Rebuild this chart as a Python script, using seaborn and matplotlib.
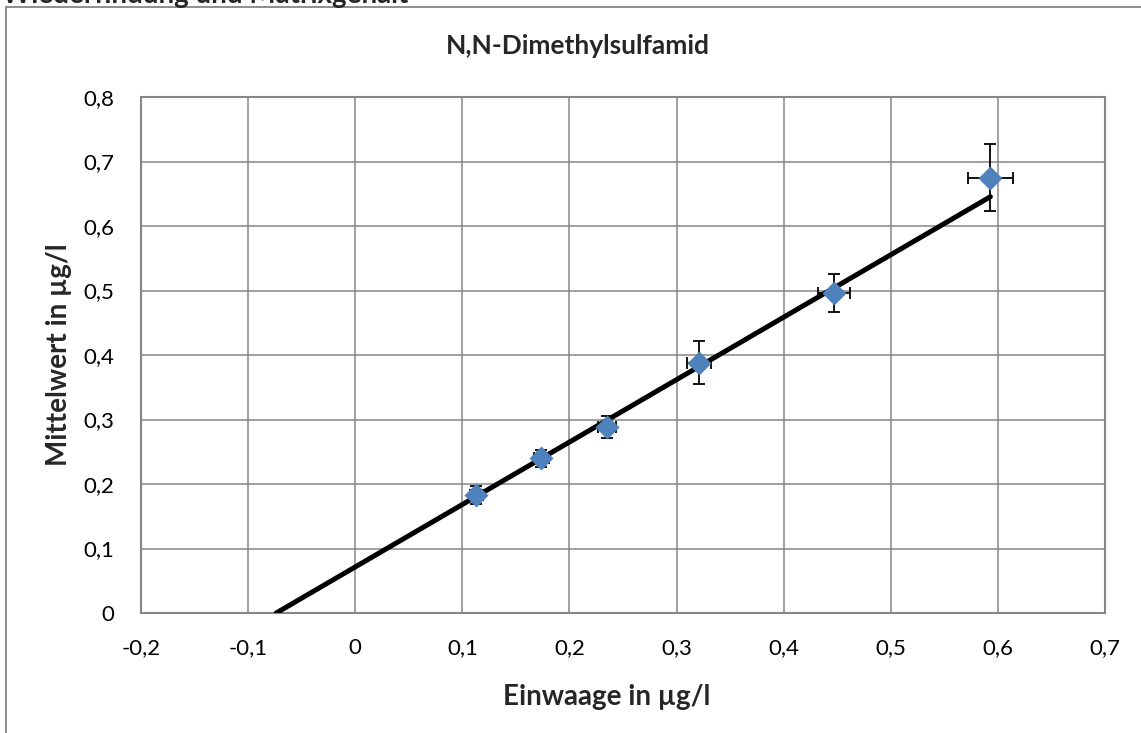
import numpy as np
import matplotlib
matplotlib.use("Agg")
import matplotlib.pyplot as plt
import seaborn as sns
import pandas as pd

# ---- data ----
einwaage = [0.113, 0.1735, 0.235, 0.321, 0.447, 0.593]
mittelwert = [0.183, 0.240, 0.288, 0.388, 0.496, 0.675]
x_err = [0.006, 0.007, 0.0085, 0.011, 0.015, 0.021]
y_err = [0.014, 0.013, 0.017, 0.033, 0.030, 0.052]
fit_slope = 0.968
fit_intercept = 0.0714
x_ticks = [-0.2, -0.1, 0.0, 0.1, 0.2, 0.3, 0.4, 0.5, 0.6, 0.7]
x_ticklabels = ["-0,2", "-0,1", "0", "0,1", "0,2", "0,3", "0,4", "0,5", "0,6", "0,7"]
y_ticks = [0.0, 0.1, 0.2, 0.3, 0.4, 0.5, 0.6, 0.7, 0.8]
y_ticklabels = ["0", "0,1", "0,2", "0,3", "0,4", "0,5", "0,6", "0,7", "0,8"]
title = "N,N-Dimethylsulfamid"
x_label = "Einwaage in µg/l"
y_label = "Mittelwert in µg/l"
sheet_title = "Wiederfindung und Matrixgehalt"

sns.set_style("white")
plt.rcParams['font.family'] = ['Lato', 'DejaVu Sans']

W, H = 1141, 733
fig = plt.figure(figsize=(W / 100, H / 100), dpi=100)
ax = fig.add_axes([141 / W, (H - 613) / H, (1105 - 141) / W, (613 - 97) / H])

grid_col = "#868686"

# regression line from x-intercept to last point
x0 = -fit_intercept / fit_slope
x1 = max(einwaage)
line_df = pd.DataFrame({"x": [x0, x1], "y": [fit_intercept + fit_slope * x0, fit_intercept + fit_slope * x1]})

df = pd.DataFrame({"x": einwaage, "y": mittelwert})

ax.errorbar(einwaage, mittelwert, xerr=x_err, yerr=y_err, fmt="none",
            ecolor="black", elinewidth=1.3, capsize=4.5, capthick=1.3, zorder=3)
sns.lineplot(data=line_df, x="x", y="y", ax=ax, color="black", linewidth=3.6, zorder=4)
sns.scatterplot(data=df, x="x", y="y", ax=ax, marker="D", s=150, color="#4F81BD",
                edgecolor="#4F81BD", linewidth=0, zorder=5)

ax.set_xlim(-0.2, 0.7)
ax.set_ylim(0, 0.8)
ax.set_xticks(x_ticks)
ax.set_xticklabels(x_ticklabels)
ax.set_yticks(y_ticks)
ax.set_yticklabels(y_ticklabels)
ax.grid(True, color=grid_col, linewidth=1.1)
ax.set_axisbelow(True)
for s in ax.spines.values():
    s.set_color(grid_col)
    s.set_linewidth(1.5)
ax.tick_params(axis="both", which="major", direction="out", length=4, width=1.3,
               color=grid_col, labelsize=16, labelcolor="black")
ax.tick_params(axis="x", pad=14)
ax.tick_params(axis="y", pad=15)

ax.set_xlabel(x_label, fontsize=20, fontweight="bold")
ax.set_ylabel(y_label, fontsize=20, fontweight="bold")
ax.xaxis.set_label_coords((607 - 141) / (1105 - 141), -(684 - 613) / (613 - 97))
ax.yaxis.set_label_coords(-(141 - 72) / (1105 - 141), (613 - 355) / (613 - 97))

fig.text(578 / W, 1 - 46 / H, title, ha="center", va="center", fontsize=19, fontweight="bold")
fig.text(2 / W, 1 - 3 / H, sheet_title, ha="left", va="baseline", fontsize=20, fontweight="bold")

# outer chart frame
fig.add_artist(plt.Line2D([6 / W, 6 / W], [0, 1 - 7 / H], transform=fig.transFigure, color=grid_col, linewidth=1.3))
fig.add_artist(plt.Line2D([6 / W, 1], [1 - 7 / H, 1 - 7 / H], transform=fig.transFigure, color=grid_col, linewidth=1.3))

fig.savefig("out.png", dpi=100)
